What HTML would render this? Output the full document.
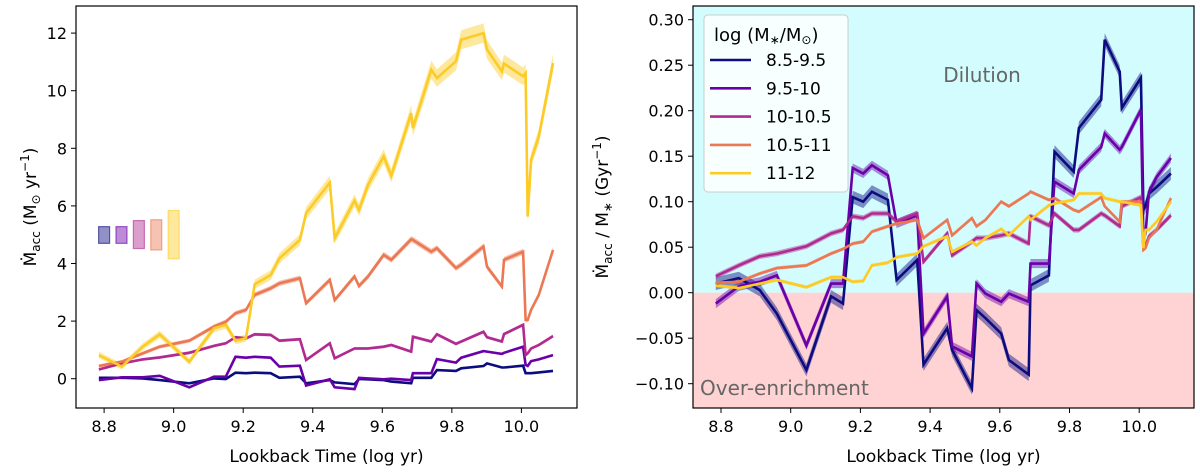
<!DOCTYPE html>
<html><head><meta charset="utf-8"><style>
body{margin:0;background:#fff;}
svg{display:block;font-family:"DejaVu Sans","Liberation Sans",sans-serif;}
</style></head><body>
<svg id="fig" width="1200" height="474" viewBox="0 0 1200 474"></svg>
<script>
// ---- shared data ----
const lookback = [8.785,8.851,8.911,8.96,9.045,9.116,9.15,9.178,9.208,9.233,9.279,9.304,9.363,9.381,9.449,9.463,9.52,9.533,9.559,9.604,9.626,9.683,9.688,9.741,9.757,9.812,9.827,9.891,9.901,9.944,9.95,10.005,10.012,10.018,10.028,10.05,10.091];
const seriesNames = ["8.5-9.5","9.5-10","10-10.5","10.5-11","11-12"];
const seriesColors = ["#0c0c80","#6a00a8","#b12a90","#ec7853","#fccb26"];
// left panel: accretion rate (Msun/yr)
const accNavy = [0.03,0.03,0.01,-0.05,-0.16,0.01,-0.01,0.21,0.19,0.21,0.19,0.03,0.07,-0.16,-0.05,-0.13,-0.19,-0.01,-0.02,-0.05,-0.10,-0.16,0.03,0.03,0.30,0.27,0.36,0.44,0.53,0.39,0.39,0.45,0.19,0.19,0.19,0.22,0.27];
const accPurple = [-0.05,0.05,0.05,0.10,-0.30,0.07,0.07,0.76,0.73,0.76,0.73,0.42,0.45,-0.24,-0.02,-0.30,-0.36,0.03,0.01,-0.02,0,-0.05,0.19,0.19,0.68,0.56,0.73,0.96,0.94,0.86,0.90,1.11,0.48,0.44,0.61,0.67,0.82];
const accMagenta = [0.32,0.53,0.67,0.74,0.90,1.14,1.23,1.44,1.40,1.54,1.52,1.32,1.37,0.65,1.23,0.71,1.05,1.05,1.05,1.11,1.17,0.94,1.46,1.29,1.54,1.21,1.29,1.63,1.44,1.29,1.55,1.87,0.82,0.88,1.05,1.17,1.48];
const accOrange = [0.44,0.59,0.88,1.11,1.32,1.81,1.98,2.27,2.39,2.91,3.14,3.31,3.49,2.62,3.43,2.73,3.55,3.22,3.55,4.30,4.13,4.84,4.82,4.41,4.53,3.84,3.96,4.59,3.89,3.20,4.13,4.41,2.04,2.04,2.39,2.91,4.47];
const accYellow = [0.82,0.42,1.11,1.54,0.59,1.75,1.87,1.32,1.41,3.28,3.60,4.18,4.82,5.75,6.81,4.88,6.18,5.86,6.73,7.72,7.05,9.22,8.70,10.73,10.44,11.02,11.77,12.0,11.43,10.67,10.94,10.50,10.61,5.63,7.60,8.41,10.96];
// representative error bars (left panel)
const errX = [8.8,8.85,8.9,8.95,9.0];
const errLow = [4.70,4.70,4.52,4.47,4.16];
const errHigh = [5.28,5.28,5.49,5.52,5.84];
// right panel: specific accretion (1/Gyr)
const sNavy = [0.010,0.016,0.003,-0.023,-0.085,-0.004,-0.012,0.105,0.100,0.111,0.102,0.014,0.036,-0.079,-0.039,-0.063,-0.105,-0.019,-0.028,-0.045,-0.074,-0.090,0.008,0.019,0.155,0.133,0.181,0.212,0.278,0.243,0.203,0.236,0.091,0.095,0.109,0.116,0.131];
const sPurple = [-0.012,0.007,0.012,0.019,-0.058,0.010,0.010,0.137,0.131,0.140,0.129,0.076,0.085,-0.045,-0.004,-0.059,-0.070,0.010,-0.001,-0.010,-0.001,-0.010,0.032,0.032,0.122,0.109,0.135,0.160,0.175,0.157,0.160,0.201,0.058,0.065,0.111,0.127,0.148];
const sMagenta = [0.018,0.030,0.040,0.043,0.051,0.065,0.069,0.084,0.082,0.087,0.087,0.078,0.087,0.034,0.065,0.041,0.056,0.060,0.060,0.063,0.065,0.054,0.084,0.074,0.087,0.069,0.069,0.087,0.085,0.073,0.095,0.105,0.051,0.052,0.062,0.069,0.085];
const sOrange = [0.011,0.012,0.021,0.027,0.030,0.043,0.048,0.054,0.056,0.067,0.073,0.076,0.080,0.060,0.080,0.063,0.082,0.073,0.080,0.100,0.095,0.109,0.111,0.102,0.104,0.091,0.089,0.105,0.095,0.078,0.100,0.100,0.047,0.049,0.060,0.069,0.104];
const sYellow = [0.008,0.005,0.010,0.014,0.006,0.017,0.017,0.012,0.013,0.030,0.033,0.039,0.043,0.051,0.062,0.045,0.056,0.052,0.060,0.070,0.063,0.084,0.080,0.096,0.098,0.102,0.109,0.109,0.104,0.100,0.100,0.096,0.049,0.069,0.069,0.078,0.100];
const xTicks = [8.8,9.0,9.2,9.4,9.6,9.8,10.0];
const xTickLabels = ["8.8","9.0","9.2","9.4","9.6","9.8","10.0"];
const leftYTicks = [0,2,4,6,8,10,12];
const rightYTicks = [-0.10,-0.05,0.00,0.05,0.10,0.15,0.20,0.25,0.30];
const rightYTickLabels = ["−0.10","−0.05","0.00","0.05","0.10","0.15","0.20","0.25","0.30"];

const NS="http://www.w3.org/2000/svg";
const svg=document.getElementById('fig');
function mk(tag,attrs,parent){const e=document.createElementNS(NS,tag);for(const k in attrs)e.setAttribute(k,attrs[k]);(parent||svg).appendChild(e);return e;}

// axis functions
const L={x0:76,x1:577,y0:6,y1:408};
const lx=v=>104.1+(v-8.8)/0.2*69.55;
const ly=v=>378.7-v/2*57.6;
const R={x0:693,x1:1194,y0:6,y1:408};
const rx=v=>721+(v-8.8)/0.2*69.7;
const ry=v=>292.7-v/0.05*45.5;

function band(xs,ys,hw,fx,fy,color,g,name){
  let up=xs.map((x,i)=>fx(x).toFixed(1)+','+fy(ys[i]+hw[i]).toFixed(1));
  let dn=xs.map((x,i)=>fx(x).toFixed(1)+','+fy(ys[i]-hw[i]).toFixed(1)).reverse();
  const p=mk('polygon',{points:up.concat(dn).join(' '),fill:color,'fill-opacity':0.45,stroke:'none'},g);
  
  
}
function line(xs,ys,fx,fy,color,g,name){
  const p=mk('polyline',{points:xs.map((x,i)=>fx(x).toFixed(1)+','+fy(ys[i]).toFixed(1)).join(' '),fill:'none',stroke:color,'stroke-width':2.6,'stroke-linejoin':'miter'},g);
  
  
}

// ---- LEFT PANEL ----
const gl=mk('g',{});


const cl=mk('clipPath',{id:'clipL'},gl);mk('rect',{x:L.x0,y:L.y0,width:L.x1-L.x0,height:L.y1-L.y0},cl);
const plotL=mk('g',{'clip-path':'url(#clipL)'},gl);
const leftSeries=[accNavy,accPurple,accMagenta,accOrange,accYellow];
const leftHW=[0.04,0.05,0.07,0.09,0.16];
leftSeries.forEach((s,i)=>{
  band(lookback,s,s.map(v=>leftHW[i]*(0.6+Math.abs(v)/8)),lx,ly,seriesColors[i],plotL,'left-series-'+seriesNames[i]);
});
leftSeries.forEach((s,i)=>line(lookback,s,lx,ly,seriesColors[i],plotL,'left-line-'+seriesNames[i]));
errX.forEach((x,i)=>{
  const r=mk('rect',{x:lx(x)-5.5,y:ly(errHigh[i]),width:11,height:ly(errLow[i])-ly(errHigh[i]),fill:seriesColors[i],'fill-opacity':0.45,stroke:seriesColors[i],'stroke-opacity':0.6,'stroke-width':1.2},plotL);
  
  
});
const fl=mk('rect',{x:L.x0,y:L.y0,width:L.x1-L.x0,height:L.y1-L.y0,fill:'none',stroke:'#000','stroke-width':1.2},gl);


xTicks.forEach((t,i)=>{
  mk('line',{x1:lx(t),x2:lx(t),y1:L.y1,y2:L.y1+5,stroke:'#000','stroke-width':1},gl);
  const tx=mk('text',{x:lx(t),y:L.y1+24,'text-anchor':'middle','font-size':16,fill:'#000'},gl);tx.textContent=xTickLabels[i];
  
  
});
leftYTicks.forEach(t=>{
  mk('line',{x1:L.x0-5,x2:L.x0,y1:ly(t),y2:ly(t),stroke:'#000','stroke-width':1},gl);
  const tx=mk('text',{x:L.x0-9,y:ly(t)+6,'text-anchor':'end','font-size':16,fill:'#000'},gl);tx.textContent=String(t);
  
  
});
const xlL=mk('text',{x:(L.x0+L.x1)/2,y:462,'text-anchor':'middle','font-size':17},gl);xlL.textContent='Lookback Time (log yr)';


const ylL=mk('text',{x:0,y:0,'text-anchor':'middle','font-size':17,transform:'translate(36,207) rotate(-90)'},gl);
ylL.innerHTML='Ṁ<tspan font-size="12" dy="4">acc</tspan><tspan dy="-4"> (M</tspan><tspan font-size="12" dy="4">⊙</tspan><tspan dy="-4"> yr</tspan><tspan font-size="12" dy="-7">−1</tspan><tspan dy="7">)</tspan>';



// ---- RIGHT PANEL ----
const gr=mk('g',{});


const cr=mk('clipPath',{id:'clipR'},gr);mk('rect',{x:R.x0,y:R.y0,width:R.x1-R.x0,height:R.y1-R.y0},cr);
const plotR=mk('g',{'clip-path':'url(#clipR)'},gr);
const dil=mk('rect',{x:R.x0,y:R.y0,width:R.x1-R.x0,height:ry(0)-R.y0,fill:'#d2fcfd'},plotR);


const ovr=mk('rect',{x:R.x0,y:ry(0),width:R.x1-R.x0,height:R.y1-ry(0),fill:'#ffd3d3'},plotR);


const t1=mk('text',{x:982,y:82,'text-anchor':'middle','font-size':20,fill:'#666'},plotR);t1.textContent='Dilution';


const t2=mk('text',{x:700,y:395,'font-size':20,fill:'#666'},plotR);t2.textContent='Over-enrichment';


const rightSeries=[sNavy,sPurple,sMagenta,sOrange,sYellow];
const rightHW=[0.007,0.005,0.003,0.002,0.002];
rightSeries.forEach((s,i)=>band(lookback,s,s.map(()=>rightHW[i]),rx,ry,seriesColors[i],plotR,'right-series-'+seriesNames[i]));
rightSeries.forEach((s,i)=>line(lookback,s,rx,ry,seriesColors[i],plotR,'right-line-'+seriesNames[i]));
const fr=mk('rect',{x:R.x0,y:R.y0,width:R.x1-R.x0,height:R.y1-R.y0,fill:'none',stroke:'#000','stroke-width':1.2},gr);


xTicks.forEach((t,i)=>{
  mk('line',{x1:rx(t),x2:rx(t),y1:R.y1,y2:R.y1+5,stroke:'#000','stroke-width':1},gr);
  const tx=mk('text',{x:rx(t),y:R.y1+24,'text-anchor':'middle','font-size':16},gr);tx.textContent=xTickLabels[i];
  
  
});
rightYTicks.forEach((t,i)=>{
  mk('line',{x1:R.x0-5,x2:R.x0,y1:ry(t),y2:ry(t),stroke:'#000','stroke-width':1},gr);
  const tx=mk('text',{x:R.x0-9,y:ry(t)+6,'text-anchor':'end','font-size':16},gr);tx.textContent=rightYTickLabels[i];
  
  
});
const xlR=mk('text',{x:(R.x0+R.x1)/2,y:462,'text-anchor':'middle','font-size':17},gr);xlR.textContent='Lookback Time (log yr)';


const ylR=mk('text',{x:0,y:0,'text-anchor':'middle','font-size':17,transform:'translate(608,207) rotate(-90)'},gr);
ylR.innerHTML='Ṁ<tspan font-size="12" dy="4">acc</tspan><tspan dy="-4"> / M</tspan><tspan font-size="12" dy="4">∗</tspan><tspan dy="-4"> (Gyr</tspan><tspan font-size="12" dy="-7">−1</tspan><tspan dy="7">)</tspan>';



// legend
const lg=mk('g',{},gr);


mk('rect',{x:704,y:15,width:144,height:177,rx:4,fill:'#fff','fill-opacity':0.85,stroke:'#ccc','stroke-width':1},lg);
const lt=mk('text',{x:714,y:41,'font-size':18},lg);
lt.innerHTML='log (M<tspan font-size="12" dy="3">∗</tspan><tspan dy="-3">/M</tspan><tspan font-size="12" dy="3">⊙</tspan><tspan dy="-3">)</tspan>';


seriesNames.forEach((n,i)=>{
  const y=60+i*28.3;
  const e=mk('g',{},lg);
  
  
  mk('line',{x1:710,x2:751,y1:y,y2:y,stroke:seriesColors[i],'stroke-width':2.6},e);
  const t=mk('text',{x:766,y:y+6,'font-size':17},e);t.textContent=n;
});
</script>
</body></html>
